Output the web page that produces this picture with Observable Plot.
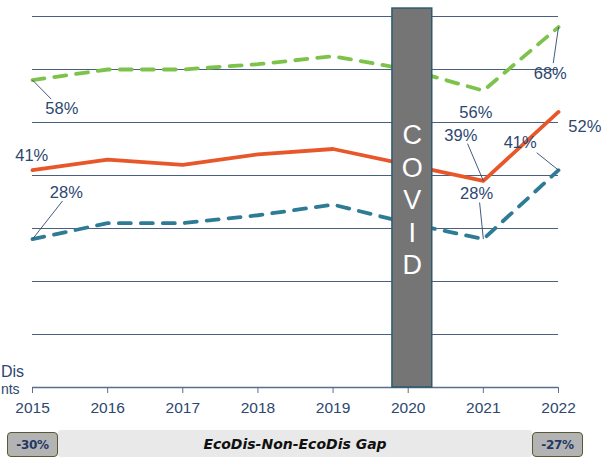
<!DOCTYPE html>
<html>
<head>
<meta charset="utf-8">
<script src="https://cdn.jsdelivr.net/npm/d3@7"></script>
<script src="https://cdn.jsdelivr.net/npm/@observablehq/plot@0.6"></script>
<style>
  html, body { margin: 0; padding: 0; background: #fff; overflow: hidden; }
  #wrap { position: relative; width: 611px; height: 460px; }
  #gap { position: absolute; left: 58px; top: 430px; width: 474px; height: 27px; background: #e9e9e9; border-radius: 3px;
         font: italic bold 14px "DejaVu Sans", Verdana, sans-serif; color: #111; display: flex; align-items: center; justify-content: center; }
  .box { position: absolute; top: 432px; background: #b3b3b3; border: 1.5px solid #5a5a32; border-radius: 4px;
         font: bold 12px "DejaVu Sans", Verdana, sans-serif; color: #1f3864; display: flex; align-items: center; justify-content: center;
         box-sizing: border-box; height: 25px; width: 51px; letter-spacing: -0.3px; }
</style>
</head>
<body>
<div id="wrap"></div>
<script>
// ---- data ----
const years = [2015, 2016, 2017, 2018, 2019, 2020, 2021, 2022];
const allStudents = [41, 43, 42, 44, 45, 42, 39, 52];        // solid orange
const nonEcoDis   = [58, 60, 60, 61, 62.5, 60, 56, 68];      // dashed green
const ecoDis      = [28, 31, 31, 32.5, 34.5, 31, 28, 41];    // dashed teal
const gridValues  = [10, 20, 30, 40, 50, 60, 70];
const gapStart = "-30%";
const gapEnd = "-27%";
const gapTitle = "EcoDis-Non-EcoDis Gap";
const covidLabel = "COVID";
const legendTails = ["Dis", "nts"];

// value labels: [series, year index, text]
const valueLabels = [
  ["all", 0, "41%"], ["non", 0, "58%"], ["eco", 0, "28%"],
  ["non", 7, "68%"], ["non", 6, "56%"], ["all", 7, "52%"],
  ["all", 6, "39%"], ["eco", 7, "41%"], ["eco", 6, "28%"]
];

// ---- annotation placement (data units) ----
const labelPlace = [
  {lx: 2014.99, ly: 43.8, leader: null},
  {lx: 2015.39, ly: 52.6, leader: [2015.25, 54.4]},
  {lx: 2015.45, ly: 36.8, leader: [2015.40, 35.2]},
  {lx: 2021.89, ly: 59.2, leader: [2021.93, 61.2]},
  {lx: 2020.90, ly: 51.9, leader: null},
  {lx: 2022.35, ly: 49.2, leader: null},
  {lx: 2020.70, ly: 47.5, leader: [2020.79, 46.0]},
  {lx: 2021.49, ly: 46.2, leader: [2021.71, 44.3]},
  {lx: 2020.91, ly: 36.6, leader: [2020.95, 34.9]}
];
const covidSpan = {x1: 2019.79, x2: 2020.32, y1: 0, y2: 71.5};
const legendPlace = [{x: 2014.58, y: 3.0, size: 16}, {x: 2014.58, y: -0.4, size: 14}];

const series = {all: allStudents, non: nonEcoDis, eco: ecoDis};
const rows = (vals) => years.map((y, i) => ({year: y, value: vals[i]}));

const labels = valueLabels.map(([s, i, t], k) => ({
  text: t, px: years[i], py: series[s][i], ...labelPlace[k]
}));
const leaders = labels.filter(d => d.leader).map(d => ({x1: d.px, y1: d.py, x2: d.leader[0], y2: d.leader[1]}));
const legendRows = legendTails.map((t, i) => ({text: t, ...legendPlace[i]}));

const navy = "#2c4770";

const chart = Plot.plot({
  width: 611,
  height: 425,
  marginLeft: 32,
  marginRight: 53,
  marginTop: 16,
  marginBottom: 38,
  x: {domain: [2015, 2022]},
  y: {domain: [0, 70], axis: null},
  style: {fontFamily: "'Liberation Sans', Arial, sans-serif", background: "white", overflow: "visible"},
  marks: [
    Plot.ruleY(gridValues, {stroke: "#4a5f7e", strokeWidth: 1.1}),
    Plot.ruleY([0], {stroke: "#5a6f8e", strokeWidth: 1.3}),
    Plot.axisX({ticks: years, tickFormat: d => String(d), tickSize: 6, tickPadding: 8, stroke: "#5a6f8e",
                fill: navy, fontSize: 15.5, letterSpacing: "-0.8px", fontFamily: "'Liberation Sans', Arial, sans-serif"}),
    Plot.line(rows(nonEcoDis), {x: "year", y: "value", stroke: "#7dc24b", strokeWidth: 3.8, strokeDasharray: "12,10"}),
    Plot.line(rows(allStudents), {x: "year", y: "value", stroke: "#e8572a", strokeWidth: 3.8}),
    Plot.line(rows(ecoDis), {x: "year", y: "value", stroke: "#2e7b96", strokeWidth: 3.8, strokeDasharray: "12,10"}),
    Plot.rect([covidSpan], {x1: "x1", x2: "x2", y1: "y1", y2: "y2", fill: "#757575", stroke: "#2d5a6e", strokeWidth: 1.5}),
    Plot.text([covidSpan], {x: d => (d.x1 + d.x2) / 2, y: 35.6, text: () => covidLabel.split("").join("\n"),
               fill: "white", fontSize: 27, lineHeight: 1.2, fontFamily: "'Liberation Sans', Arial, sans-serif"}),
    Plot.link(leaders, {x1: "x1", y1: "y1", x2: "x2", y2: "y2", stroke: "#2c4770", strokeWidth: 0.9}),
    Plot.text(labels, {x: "lx", y: "ly", text: "text", fill: navy, fontSize: 16.5}),
    Plot.text(legendRows, {x: "x", y: "y", text: "text", textAnchor: "start", fill: navy, fontSize: d => d.size, letterSpacing: "-0.5px"})
  ]
});

const wrap = document.getElementById("wrap");
wrap.appendChild(chart);
const gap = document.createElement("div"); gap.id = "gap"; gap.textContent = gapTitle; wrap.appendChild(gap);
const b1 = document.createElement("div"); b1.className = "box"; b1.style.left = "7px"; b1.textContent = gapStart; wrap.appendChild(b1);
const b2 = document.createElement("div"); b2.className = "box"; b2.style.left = "532px"; b2.textContent = gapEnd; wrap.appendChild(b2);
</script>
</body>
</html>
